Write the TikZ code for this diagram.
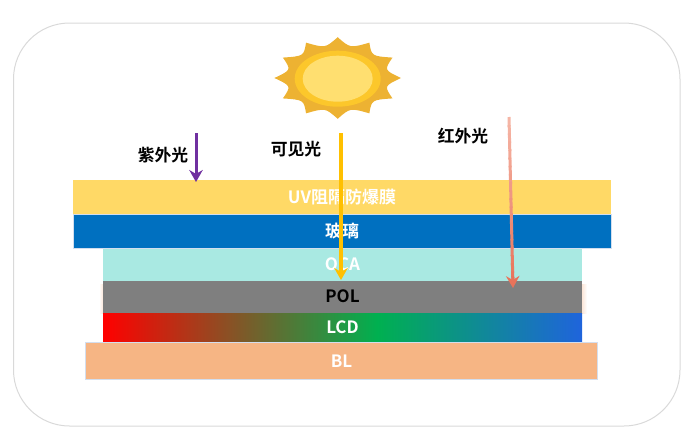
\documentclass[tikz,border=0pt]{standalone}
\usepackage{fontspec}
\setmainfont{Noto Sans CJK SC}[BoldFont={Noto Sans CJK SC Bold}]
\usetikzlibrary{arrows.meta,calc}
\definecolor{uvc}{HTML}{FFD966}
\definecolor{glassc}{HTML}{0070C0}
\definecolor{ocac}{HTML}{A9E9E2}
\definecolor{polc}{HTML}{7F7F7F}
\definecolor{blc}{HTML}{F6B584}
\definecolor{edgec}{HTML}{D3DEEE}
\definecolor{framec}{HTML}{D9D9D9}
\definecolor{sunout}{HTML}{EDB232}
\definecolor{sunmid}{HTML}{FCC72B}
\definecolor{sunin}{HTML}{FFDF70}
\definecolor{violetc}{HTML}{7030A0}
\definecolor{yellowc}{HTML}{FFC000}
\definecolor{irtop}{HTML}{F5B5A5}
\definecolor{irbot}{HTML}{E8735A}
\definecolor{lcdg}{HTML}{00B050}
\definecolor{lcdb}{HTML}{1F64DC}
\definecolor{glowc}{HTML}{FBE6D8}
\pgfdeclarehorizontalshading{lcdshade}{100bp}{color(0bp)=(red); color(25bp)=(red); color(53.6bp)=(lcdg); color(75bp)=(lcdb); color(100bp)=(lcdb)}
\tikzset{
  x=1pt,y=-1pt,
  layer/.style={inner sep=0pt,outer sep=0pt,font=\fontsize{17}{18}\selectfont\bfseries,text=white},
  ray/.style={line width=3pt,-{Stealth[length=12pt,width=13.5pt,inset=4pt]}},
  lab/.style={inner sep=0pt,font=\fontsize{16.8}{18}\selectfont\bfseries,text=black},
}
\begin{document}
\begin{tikzpicture}
\useasboundingbox (0,0) rectangle (689,437);
\draw[framec,line width=1pt,rounded corners=56pt] (13.5,23) rectangle (680,426);
% sun
\begin{scope}[shift={(337.7,78)},xscale=63.3,yscale=40.8]
\fill[sunout] (0:1)
  \foreach \a in {30,60,...,360} { .. controls ({\a-15}:0.758) .. (\a:1) } -- cycle;
\end{scope}
\fill[sunmid] (337.7,78.7) ellipse [x radius=43,y radius=28];
\fill[sunin] (337.7,78.7) ellipse [x radius=35,y radius=23];
% glow behind POL
\shade[left color=white,right color=glowc] (99,284) rectangle (103,313);
\shade[left color=glowc,right color=white] (582,284) rectangle (587,313);
% layers
\node[layer,fill=uvc,minimum width=538pt,minimum height=34pt] (uv) at (342,197) {\raisebox{0.5pt}{UV阻隔防爆膜}};
\node[layer,fill=glassc,draw=edgec,line width=0.6pt,minimum width=538pt,minimum height=34pt] (glass) at (342,231.3) {玻璃};
\node[layer,fill=ocac,minimum width=479pt,minimum height=33pt] (oca) at (342.5,265) {\raisebox{1pt}{OCA}};
\node[layer,fill=polc,text=black,minimum width=479pt,minimum height=32pt] (pol) at (342.5,297) {\raisebox{1pt}{POL}};
\node[layer,shading=lcdshade,minimum width=479pt,minimum height=29pt] (lcd) at (342.5,327.5) {\raisebox{-0.5pt}{LCD}};
\node[layer,fill=blc,draw=edgec,line width=0.6pt,minimum width=512pt,minimum height=37pt] (bl) at (341.5,361) {BL};
% labels
\node[lab] (uvlab) at (163,155) {紫外光};
\node[lab] (vislab) at (296,149) {可见光};
\node[lab] (irlab) at (463,136) {红外光};
% rays
\coordinate (uvs) at (196,133);
\coordinate (uve) at (196,182);
\coordinate (viss) at (341,133);
\coordinate (vise) at (341,280);
\coordinate (irs) at (509,117);
\coordinate (ire) at (513,288);
\draw[ray,violetc] (uvs) -- (uve);
\draw[ray,yellowc,line width=3.5pt] (viss) -- (vise);
\foreach \i in {0,1,...,19} {
  \pgfmathsetmacro{\mix}{\i*5}
  \pgfmathsetmacro{\ta}{\i/20*0.95}
  \pgfmathsetmacro{\tb}{(\i+1.2)/20*0.95}
  \draw[line width=3pt,irbot!\mix!irtop] ($(irs)!\ta!(ire)$) -- ($(irs)!\tb!(ire)$);
}
\draw[ray,irbot,line width=3pt] ($(irs)!0.93!(ire)$) -- (ire);
\end{tikzpicture}
\end{document}
